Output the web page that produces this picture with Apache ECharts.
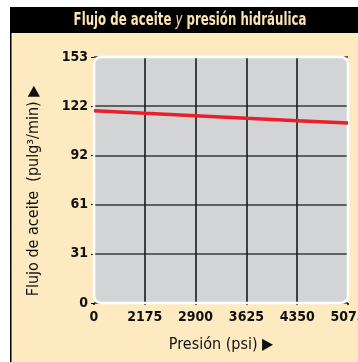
<!DOCTYPE html>
<html><head><meta charset="utf-8">
<script src="https://cdn.jsdelivr.net/npm/echarts@6/dist/echarts.min.js"></script>
<style>html,body{margin:0;padding:0;background:#fff}#c{width:358px;height:362px}</style>
</head><body><div id="c"></div>
<script>
const titleText = 'Flujo de aceite y presión hidráulica';
const xTickLabels = ['0','2175','2900','3625','4350','5075'];
const flowValues = [119.6, 118.0, 116.5, 114.9, 113.4, 111.9];
const yMax = 153;
const yInterval = 30.6;
const xName = 'Presión (psi) ▶';
const yName = 'Flujo de aceite  (pulg³/min) ▶';

const FONT = '"Liberation Sans Narrow","DejaVu Sans Condensed",Arial,sans-serif';
const chart = echarts.init(document.getElementById('c'), null, {renderer:'canvas'});
const G = {left:94, top:57, right:10, bottom:59};
const pw = 358 - G.left - G.right, ph = 362 - G.top - G.bottom;
chart.setOption({
  animation:false,
  backgroundColor:'#ffffff',
  graphic:[
    {type:'rect', z:-20, shape:{x:10,y:7,width:348,height:355}, style:{fill:'#FEEAC0'}},
    {type:'rect', z:-19, shape:{x:10,y:7,width:348,height:26}, style:{fill:'#000'}},
    {type:'rect', z:-19, shape:{x:10,y:7,width:1.5,height:355}, style:{fill:'#000'}},
    {type:'text', z:-18, x:190, y:21, scaleX:0.77, style:{
      text:'{a|Flujo de aceite }{b|y}{a| presión hidráulica}',
      align:'center', verticalAlign:'middle',
      rich:{a:{fontFamily:FONT,fontWeight:'bold',fontSize:17,fill:'#FBE3B2'},
            b:{fontFamily:FONT,fontWeight:'normal',fontStyle:'italic',fontSize:17,fill:'#FBE3B2'}}
    }},
    {type:'rect', z:-15, shape:{x:G.left,y:G.top,width:pw,height:ph,r:7}, style:{fill:'#D3D4D6'}},
    {type:'rect', z:1, silent:true, shape:{x:G.left,y:G.top,width:pw,height:ph,r:7}, style:{fill:null,stroke:'#fff',lineWidth:2.5}},
    {type:'text', z:1, x:34, y:191, rotation:Math.PI/2, style:{
      text:yName, align:'center', verticalAlign:'middle',
      fontFamily:FONT, fontSize:16, fill:'#111'
    }}
  ],
  grid:{left:G.left, top:G.top, right:G.right, bottom:G.bottom, containLabel:false, outerBoundsMode:'none'},
  xAxis:{
    type:'category', data:xTickLabels, boundaryGap:false,
    name:xName, nameLocation:'middle', nameGap:34,
    nameTextStyle:{fontFamily:FONT, fontSize:16, color:'#111'},
    axisLine:{show:false},
    axisTick:{show:true, length:2, interval:0, lineStyle:{color:'#000', width:1.5}},
    axisLabel:{fontFamily:FONT, fontWeight:'bold', fontSize:14, color:'#111', margin:7, interval:0, hideOverlap:false},
    splitLine:{show:true, interval:(i)=> i>0 && i<xTickLabels.length-1, lineStyle:{color:'#1a1a1a', width:1.6}}
  },
  yAxis:{
    type:'value', min:0, max:yMax, interval:yInterval,
    axisLine:{show:false},
    axisTick:{show:true, length:3, lineStyle:{color:'#000', width:1}},
    axisLabel:{fontFamily:FONT, fontWeight:'bold', fontSize:14, color:'#111', margin:6,
      formatter:(v)=>String(Math.round(v))},
    splitLine:{show:true, lineStyle:{color:'#3a3a3a', width:1.6}}
  },
  series:[{
    type:'line', data:flowValues, symbol:'none', z:3,
    lineStyle:{color:'#E8202C', width:3.5}
  }]
});
</script></body></html>
